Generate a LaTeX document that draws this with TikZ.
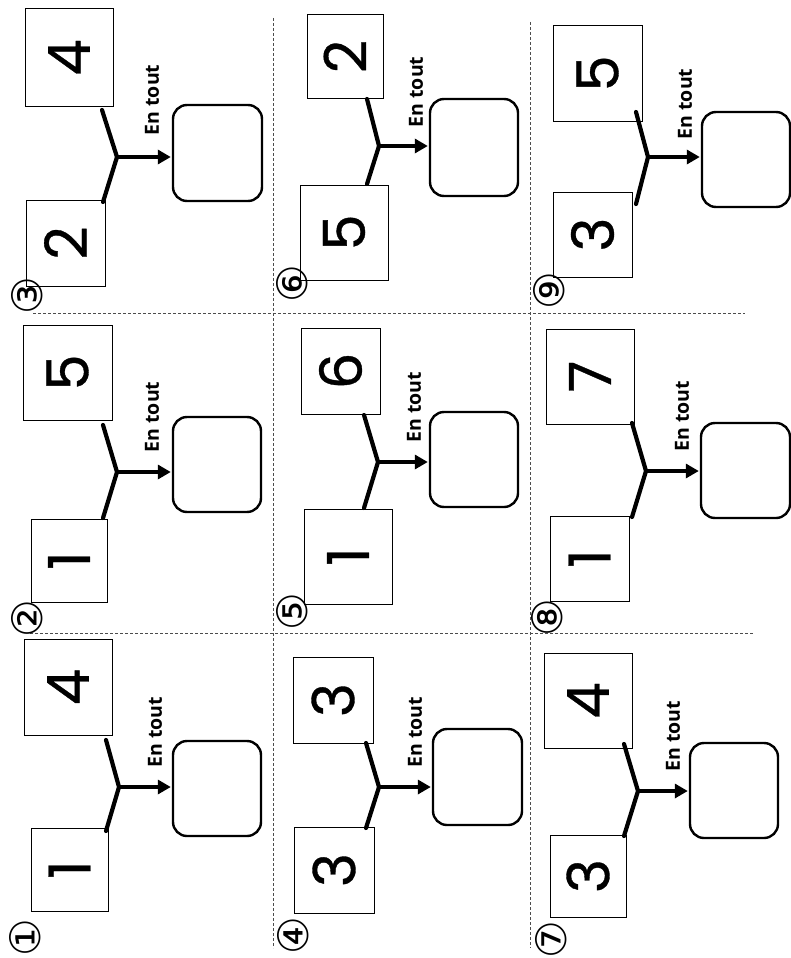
\documentclass[tikz,border=0pt]{standalone}
\usepackage{fontspec}
\newfontfamily\digitfont[FakeBold=0.6]{Poppins}
\newfontfamily\labelfont{Open Sans}
\newfontfamily\circfont{DejaVu Sans}
\usetikzlibrary{arrows.meta}

\begin{document}
\begin{tikzpicture}[x=1pt,y=-1pt,
  numbox/.style={draw,line width=1pt,inner sep=0pt,font=\digitfont\fontsize{58}{58}\selectfont},
  sumbox/.style={draw,line width=2.4pt,rounded corners=14pt,inner sep=0pt,minimum width=88,minimum height=95},
  armline/.style={line width=4.2pt,line cap=round},
  totline/.style={line width=4pt,-{Triangle[length=13pt,width=14pt]},shorten >=1pt},
  entout/.style={rotate=90,inner sep=0pt,font=\labelfont\bfseries\fontsize{19.5}{20}\selectfont},
  circnum/.style={rotate=90,inner sep=0pt,font=\circfont\fontsize{42}{42}\selectfont},
  cutline/.style={black!70,line width=0.8pt,dash pattern=on 3pt off 2pt}]

% page (pixel grid, y downwards)
\path[use as bounding box,fill=white] (0,0) rectangle (791,958);

% cutting lines
\draw[cutline] (33,313) -- (745,313);
\draw[cutline] (30,633) -- (753,633);
\draw[cutline] (273,18) -- (273,948);
\draw[cutline] (530,22) -- (530,948);

%-------------------------------------------------------------------
% 1 : 1 and 4
\node[numbox,minimum width=88,minimum height=96] (c1a) at (68,687) {\rotatebox{90}{4}};
\node[numbox,minimum width=77,minimum height=83] (c1b) at (69.5,869.5) {\rotatebox{90}{1}};
\node[sumbox] (c1s) at (217,788.5) {};
\coordinate (c1j) at (119,787);
\coordinate (c1u) at (106,740);
\coordinate (c1l) at (106,831);
\draw[armline] (c1u) -- (c1j) -- (c1l);
\draw[totline] (c1j) -- (c1j -| c1s.west);
\node[entout] (c1t) at (155,732) {En tout};
\node[circnum] (c1n) at (25,938) {①};

%-------------------------------------------------------------------
% 2 : 1 and 5
\node[numbox,minimum width=89,minimum height=95] (c2a) at (67.5,372.5) {\rotatebox{90}{5}};
\node[numbox,minimum width=76,minimum height=83] (c2b) at (69,560.5) {\rotatebox{90}{1}};
\node[sumbox] (c2s) at (217,464.5) {};
\coordinate (c2j) at (117,472);
\coordinate (c2u) at (103,425);
\coordinate (c2l) at (103,518);
\draw[armline] (c2u) -- (c2j) -- (c2l);
\draw[totline] (c2j) -- (c2j -| c2s.west);
\node[entout] (c2t) at (152,417) {En tout};
\node[circnum] (c2n) at (27,619) {②};

%-------------------------------------------------------------------
% 3 : 2 and 4
\node[numbox,minimum width=88,minimum height=97] (c3a) at (69,57.5) {\rotatebox{90}{4}};
\node[numbox,minimum width=79,minimum height=86] (c3b) at (65.5,243) {\rotatebox{90}{2}};
\node[sumbox,minimum width=89,minimum height=96] (c3s) at (217.5,153) {};
\coordinate (c3j) at (117,157);
\coordinate (c3u) at (102,110);
\coordinate (c3l) at (103,202);
\draw[armline] (c3u) -- (c3j) -- (c3l);
\draw[totline] (c3j) -- (c3j -| c3s.west);
\node[entout] (c3t) at (152,100) {En tout};
\node[circnum] (c3n) at (27,296) {③};

%-------------------------------------------------------------------
% 4 : 3 and 3
\node[numbox,minimum width=80,minimum height=86] (c4a) at (333,700) {\rotatebox{90}{3}};
\node[numbox,minimum width=80,minimum height=86] (c4b) at (334,870) {\rotatebox{90}{3}};
\node[sumbox,minimum width=89,minimum height=96] (c4s) at (477.5,777) {};
\coordinate (c4j) at (379,787);
\coordinate (c4u) at (366,743);
\coordinate (c4l) at (366,828);
\draw[armline] (c4u) -- (c4j) -- (c4l);
\draw[totline] (c4j) -- (c4j -| c4s.west);
\node[entout] (c4t) at (415,732) {En tout};
\node[circnum] (c4n) at (293,936) {④};

%-------------------------------------------------------------------
% 5 : 1 and 6
\node[numbox,minimum width=79,minimum height=86] (c5a) at (340.5,371) {\rotatebox{90}{6}};
\node[numbox,minimum width=88,minimum height=95] (c5b) at (348,556.5) {\rotatebox{90}{1}};
\node[sumbox] (c5s) at (474,459.5) {};
\coordinate (c5j) at (378,462);
\coordinate (c5u) at (364,415);
\coordinate (c5l) at (364,508);
\draw[armline] (c5u) -- (c5j) -- (c5l);
\draw[totline] (c5j) -- (c5j -| c5s.west);
\node[entout] (c5t) at (414,407) {En tout};
\node[circnum] (c5n) at (292,612) {⑤};

%-------------------------------------------------------------------
% 6 : 5 and 2
\node[numbox,minimum width=76,minimum height=83] (c6a) at (345,56.5) {\rotatebox{90}{2}};
\node[numbox,minimum width=88,minimum height=95] (c6b) at (344,232.5) {\rotatebox{90}{5}};
\node[sumbox,minimum height=97] (c6s) at (474,147.5) {};
\coordinate (c6j) at (379,146);
\coordinate (c6u) at (367,99);
\coordinate (c6l) at (367,184);
\draw[armline] (c6u) -- (c6j) -- (c6l);
\draw[totline] (c6j) -- (c6j -| c6s.west);
\node[entout] (c6t) at (416,92) {En tout};
\node[circnum] (c6n) at (292,284) {⑥};

%-------------------------------------------------------------------
% 7 : 3 and 4
\node[numbox,minimum width=88,minimum height=95] (c7a) at (588,700.5) {\rotatebox{90}{4}};
\node[numbox,minimum width=76,minimum height=82] (c7b) at (588,876) {\rotatebox{90}{3}};
\node[sumbox] (c7s) at (734,790.5) {};
\coordinate (c7j) at (638,791);
\coordinate (c7u) at (624,744);
\coordinate (c7l) at (624,836);
\draw[armline] (c7u) -- (c7j) -- (c7l);
\draw[totline] (c7j) -- (c7j -| c7s.west);
\node[entout] (c7t) at (673,736) {En tout};
\node[circnum] (c7n) at (551,940) {⑦};

%-------------------------------------------------------------------
% 8 : 1 and 7
\node[numbox,minimum width=88,minimum height=95] (c8a) at (590,376.5) {\rotatebox{90}{7}};
\node[numbox,minimum width=79,minimum height=85] (c8b) at (589.5,558.5) {\rotatebox{90}{1}};
\node[sumbox,minimum width=89] (c8s) at (745.5,470.5) {};
\coordinate (c8j) at (646,471);
\coordinate (c8u) at (632,423);
\coordinate (c8l) at (632,517);
\draw[armline] (c8u) -- (c8j) -- (c8l);
\draw[totline] (c8j) -- (c8j -| c8s.west);
\node[entout] (c8t) at (682,416) {En tout};
\node[circnum] (c8n) at (547,618) {⑧};

%-------------------------------------------------------------------
% 9 : 3 and 5
\node[numbox,minimum width=89,minimum height=95] (c9a) at (597.5,73.5) {\rotatebox{90}{5}};
\node[numbox,minimum width=79,minimum height=85] (c9b) at (592.5,234.5) {\rotatebox{90}{3}};
\node[sumbox] (c9s) at (746,159.5) {};
\coordinate (c9j) at (648,157);
\coordinate (c9u) at (636,112);
\coordinate (c9l) at (636,204);
\draw[armline] (c9u) -- (c9j) -- (c9l);
\draw[totline] (c9j) -- (c9j -| c9s.west);
\node[entout] (c9t) at (685,104) {En tout};
\node[circnum] (c9n) at (549,291) {⑨};

\end{tikzpicture}
\end{document}
